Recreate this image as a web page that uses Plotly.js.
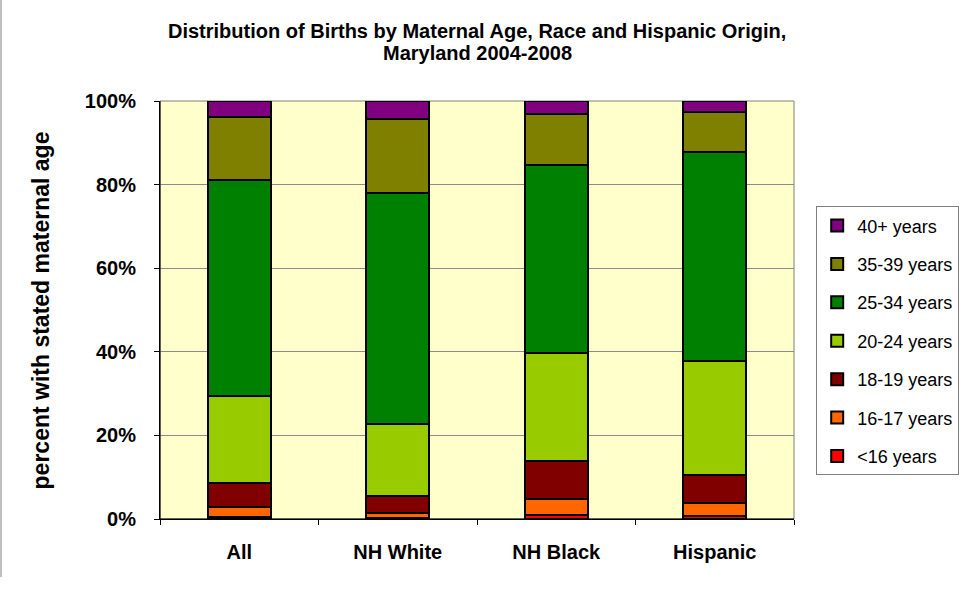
<!DOCTYPE html>
<html>
<head>
<meta charset="utf-8">
<script src="https://cdn.plot.ly/plotly-3.0.1.min.js"></script>
<style>html,body{margin:0;padding:0;background:#fff;}#chart{width:975px;height:590px;}</style>
</head>
<body>
<div id="chart"></div>
<script>
const categories = ["All", "NH White", "NH Black", "Hispanic"];
const seriesNames = ["<16 years", "16-17 years", "18-19 years", "20-24 years", "25-34 years", "35-39 years", "40+ years"];
const under16 = [0.5, 0.2, 1.0, 0.6];
const age16to17 = [2.3, 1.2, 3.8, 3.2];
const age18to19 = [5.8, 4.2, 9.0, 6.8];
const age20to24 = [20.8, 17.2, 26.0, 27.2];
const age25to34 = [51.8, 55.2, 44.8, 50.0];
const age35to39 = [15.0, 17.6, 12.2, 9.6];
const age40plus = [3.8, 4.4, 3.2, 2.6];
const yTickVals = [0, 20, 40, 60, 80, 100];
const yTickText = ["0%", "20%", "40%", "60%", "80%", "100%"];
const titleLines = ["Distribution of Births by Maternal Age, Race and Hispanic Origin,", "Maryland 2004-2008"];
const yTitle = "percent with stated maternal age";

const seriesValues = [under16, age16to17, age18to19, age20to24, age25to34, age35to39, age40plus];
const colors = ["#FF0000", "#FF6600", "#800000", "#99CC00", "#008000", "#808000", "#800080"];

const font = "Arial, 'Liberation Sans', sans-serif";
const n = seriesNames.length;

const traces = seriesNames.map((name, i) => ({
  type: "bar",
  name: name,
  x: categories,
  y: seriesValues[i],
  legendgroup: "g" + i,
  legendrank: n - i,
  marker: {color: colors[i], line: {color: "#000000", width: 2}},
  hoverinfo: "x+y+name"
}));

const layout = {
  width: 975,
  height: 590,
  margin: {l: 160, r: 181, t: 101, b: 71},
  paper_bgcolor: "#FFFFFF",
  plot_bgcolor: "#FFFFCC",
  barmode: "stack",
  bargap: 0.6,
  font: {family: font, size: 15, color: "#000"},
  xaxis: {
    type: "category",
    tickson: "boundaries",
    ticks: "outside",
    ticklen: 5,
    tickcolor: "#000",
    tickfont: {family: font, size: 20, color: "#000", weight: "bold"},
    ticklabelstandoff: 15,
    showline: true,
    linecolor: "#000",
    linewidth: 1,
    showgrid: false,
    zeroline: false
  },
  yaxis: {
    range: [0, 100],
    tickvals: yTickVals,
    ticktext: yTickText,
    ticks: "outside",
    ticklen: 5,
    tickcolor: "#000",
    tickfont: {family: font, size: 20, color: "#000", weight: "bold"},
    ticklabelstandoff: 14,
    showline: true,
    linecolor: "#000",
    linewidth: 1,
    showgrid: true,
    gridcolor: "#8c8c8c",
    gridwidth: 1,
    zeroline: false
  },
  legend: {
    x: 1.035, xanchor: "left",
    y: 0.748, yanchor: "top",
    traceorder: "grouped",
    tracegroupgap: 12,
    bgcolor: "#FFFFFF",
    bordercolor: "#808080",
    borderwidth: 1,
    font: {family: font, size: 18, color: "#000"},
    itemwidth: 30
  },
  annotations: [
    {text: "<b>" + titleLines[0] + "</b>", xref: "paper", yref: "paper", x: 0.5, y: 1.1675,
     xanchor: "center", yanchor: "middle", showarrow: false, font: {family: font, size: 20, color: "#000"}},
    {text: "<b>" + titleLines[1] + "</b>", xref: "paper", yref: "paper", x: 0.5, y: 1.114,
     xanchor: "center", yanchor: "middle", showarrow: false, font: {family: font, size: 20, color: "#000"}},
    {text: "<b>" + yTitle + "</b>", xref: "paper", yref: "paper", x: -0.187, y: 0.5, textangle: -90,
     xanchor: "center", yanchor: "middle", showarrow: false, font: {family: font, size: 23, color: "#000"}}
  ],
  shapes: [
    {type: "rect", xref: "paper", yref: "paper", x0: 0, x1: 1, y0: 0, y1: 1,
     line: {color: "#808080", width: 1}, fillcolor: "rgba(0,0,0,0)", layer: "below"},
    {type: "line", xref: "paper", yref: "paper", x0: 0, x1: 0, y0: 0, y1: 1,
     line: {color: "#000", width: 1}},
    {type: "line", xref: "paper", yref: "paper", x0: 0, x1: 1, y0: 0, y1: 0,
     line: {color: "#000", width: 1}}
  ]
};

Plotly.newPlot("chart", traces, layout, {displayModeBar: false, staticPlot: true}).then(() => {
  const svg = document.querySelector("#chart .main-svg");
  const ns = "http://www.w3.org/2000/svg";
  const l = document.createElementNS(ns, "line");
  l.setAttribute("x1", 1); l.setAttribute("x2", 1);
  l.setAttribute("y1", 0); l.setAttribute("y2", 577);
  l.setAttribute("stroke", "#808080"); l.setAttribute("stroke-width", 1);
  svg.appendChild(l);
});
</script>
</body>
</html>
